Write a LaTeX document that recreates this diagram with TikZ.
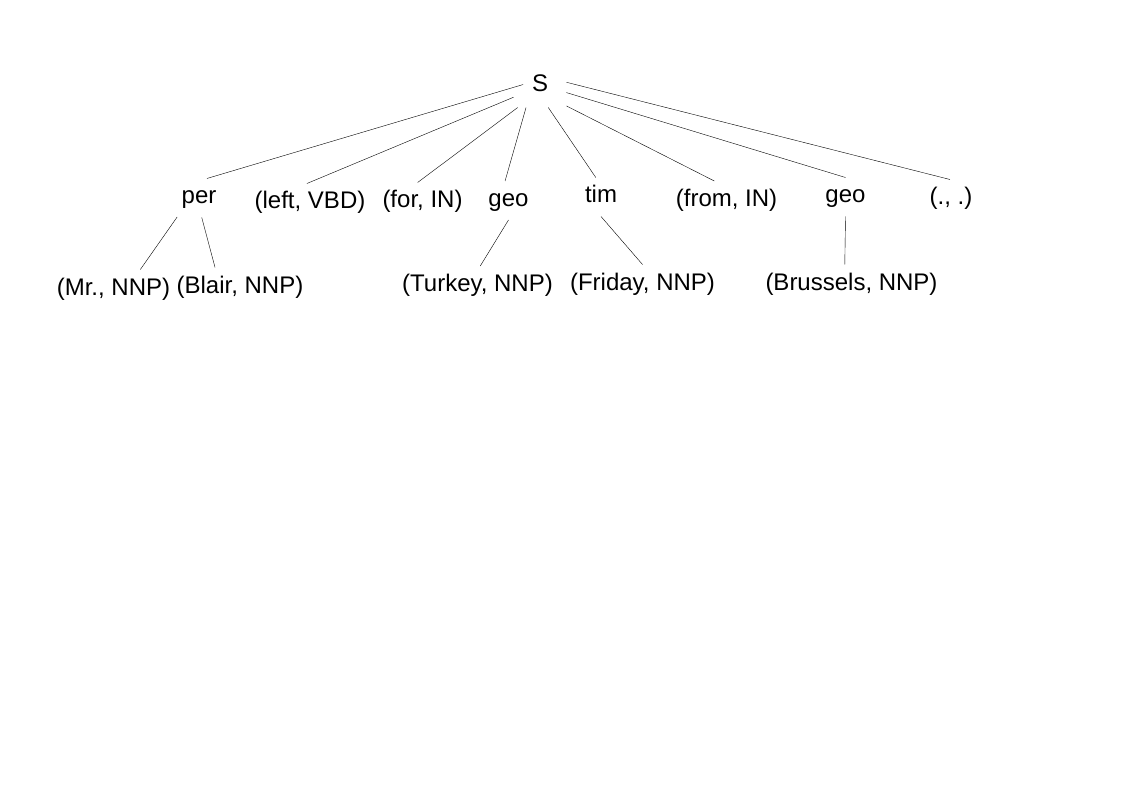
\documentclass[tikz,border=0pt]{standalone}
\usepackage{fontspec}
\setmainfont{Liberation Sans}
\usetikzlibrary{backgrounds}
\tikzset{
  tree/.style={x=1pt, y=-1pt, font=\fontsize{24}{28}\selectfont, line width=1pt},
  tagnode/.style={anchor=base, inner xsep=4pt, inner ysep=8pt, text height=17pt, text depth=5pt},
  root/.style={tagnode, inner sep=0pt, minimum width=52pt, minimum height=42pt},
  leaf/.style={tagnode},
}
\begin{document}
\begin{tikzpicture}[tree]
            \useasboundingbox (0, 0) rectangle (1123, 794);
            \node (s) at (540, 92) [root] {S};
            \node (per) at (199, 204) [tagnode] {per};
            \node (leftvbd) at (310, 209) [tagnode] {(left, VBD)};
            \node (forin) at (422.5, 208) [tagnode] {(for, IN)};
            \node (geo1) at (508.5, 206.5) [tagnode] {geo};
            \node (tim) at (601, 203) [tagnode] {tim};
            \node (fromin) at (726.5, 206.5) [tagnode] {(from, IN)};
            \node (geo2) at (845.5, 203) [tagnode] {geo};
            \node (punct) at (951, 205) [tagnode] {(., .)};
            \node (mr) at (113.5, 295) [leaf] {(Mr., NNP)};
            \node (blair) at (240, 293) [leaf] {(Blair, NNP)};
            \node (turkey) at (477.5, 291.5) [leaf] {(Turkey, NNP)};
            \node (friday) at (642.5, 290) [leaf] {(Friday, NNP)};
            \node (brussels) at (851.5, 290) [leaf] {(Brussels, NNP)};

            \begin{scope}[on background layer]
              \draw [shorten <=-10pt] (s.183) -- (per.68);
              \draw (s.203) -- (leftvbd.99);
              \draw (s.224) -- (forin.104);
              \draw (s.237) -- (geo1.100);
              \draw (s.291) -- (tim.105);
              \draw (s.323) -- (fromin.122);
              \draw (s.346) -- (geo2.north);
              \draw (s.8) -- (punct.93);
              \draw (per.221) -- (mr.36);
              \draw (per.278) -- (blair.142);
              \draw (geo1.south) -- (turkey.82);
              \draw (tim.south) -- (friday.north);
              \draw (geo2.south) -- (brussels.109);
            \end{scope}
\end{tikzpicture}
\end{document}
